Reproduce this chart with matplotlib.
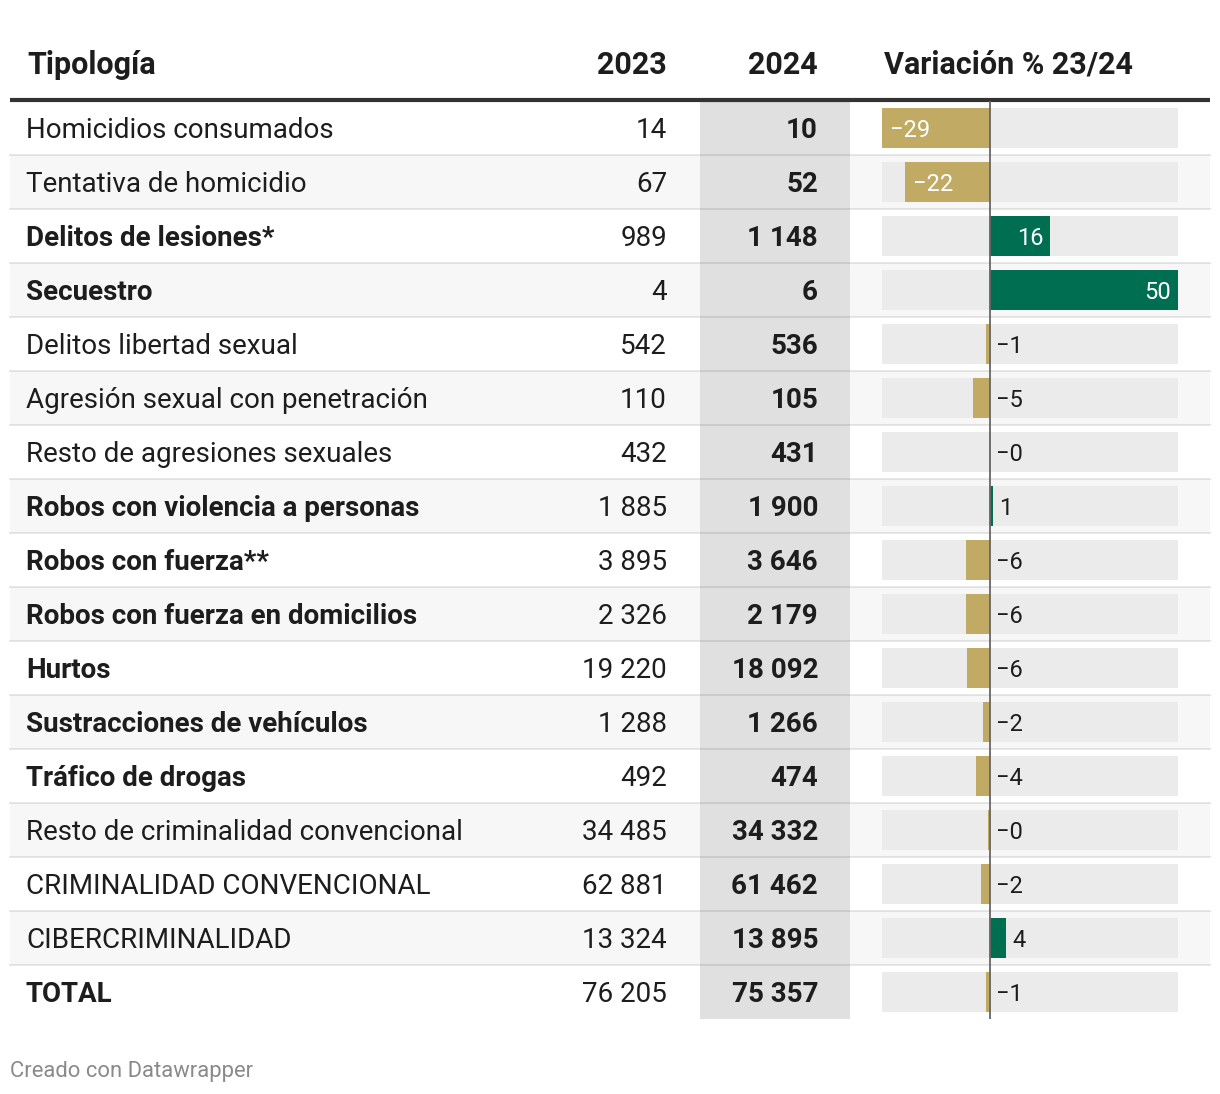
import matplotlib.pyplot as plt
import numpy as np

plt.rcParams['font.family'] = ['Roboto', 'DejaVu Sans']

# datos
tipologia = ['Homicidios consumados', 'Tentativa de homicidio', 'Delitos de lesiones*',
             'Secuestro', 'Delitos libertad sexual', 'Agresión sexual con penetración',
             'Resto de agresiones sexuales', 'Robos con violencia a personas',
             'Robos con fuerza**', 'Robos con fuerza en domicilios', 'Hurtos',
             'Sustracciones de vehículos', 'Tráfico de drogas',
             'Resto de criminalidad convencional', 'CRIMINALIDAD CONVENCIONAL',
             'CIBERCRIMINALIDAD', 'TOTAL']
negrita = [False, False, True, True, False, False, False, True, True, True, True,
           True, True, False, False, False, True]
v2023 = [14, 67, 989, 4, 542, 110, 432, 1885, 3895, 2326, 19220, 1288, 492,
         34485, 62881, 13324, 76205]
v2024 = [10, 52, 1148, 6, 536, 105, 431, 1900, 3646, 2179, 18092, 1266, 474,
         34332, 61462, 13895, 75357]
variacion = [-28.6, -22.4, 16.1, 50.0, -1.1, -4.55, -0.2, 0.8, -6.4, -6.3, -5.9,
             -1.7, -3.7, -0.4, -2.3, 4.3, -1.1]
cabecera = ['Tipología', '2023', '2024', 'Variación % 23/24']

W, H = 1220, 1094
TXT = '#1d1d1d'
NEG = '#c1aa63'
POS = '#006e51'

def miles(n):
    return f'{n:,}'.replace(',', ' ')

fig = plt.figure(figsize=(W / 100, H / 100), dpi=100)
ax = fig.add_axes([0, 0, 1, 1])
ax.set_xlim(0, W)
ax.set_ylim(H, 0)
ax.axis('off')

n = len(tipologia)
top, rh = 101, 54
bottom = top + n * rh

# filas alternas
for i in range(n):
    if i % 2 == 1:
        ax.add_patch(plt.Rectangle((10, top + i * rh), 1200, rh, color='#f7f7f7', lw=0, zorder=0))
# columna 2024
ax.add_patch(plt.Rectangle((700, top), 150, bottom - top, color='#e0e0e0', lw=0, zorder=1))
# separadores
for i in range(1, n):
    y = top + i * rh
    ax.plot([10, 1210], [y, y], color='black', alpha=0.09, lw=1.5, zorder=2)
ax.plot([10, 1210], [100, 100], color='#333333', lw=3, zorder=3, solid_capstyle='butt')

# cabecera
hy = 65
ax.text(27, hy, cabecera[0], fontsize=22, fontweight='bold', color=TXT, va='center', ha='left')
ax.text(667, hy, cabecera[1], fontsize=22, fontweight='bold', color=TXT, va='center', ha='right')
ax.text(818, hy, cabecera[2], fontsize=22, fontweight='bold', color=TXT, va='center', ha='right')
ax.text(884, hy, cabecera[3], fontsize=22, fontweight='bold', color=TXT, va='center', ha='left')

for i in range(n):
    yc = top + i * rh + rh / 2 + 2
    ax.text(26, yc, tipologia[i], fontsize=20, color=TXT, va='center', ha='left',
            fontweight='bold' if negrita[i] else 'normal', zorder=4)
    ax.text(667, yc, miles(v2023[i]), fontsize=20, color=TXT, va='center', ha='right', zorder=4)
    ax.text(818, yc, miles(v2024[i]), fontsize=20, color=TXT, va='center', ha='right',
            fontweight='bold', zorder=4)

ax.text(10, 1072, 'Creado con Datawrapper', fontsize=15.8, color='#8a8a8a', va='center', ha='left')

# barras de variación
bax = fig.add_axes([882 / W, 1 - bottom / H, 296 / W, (bottom - top) / H])
bax.patch.set_alpha(0)
bax.set_xlim(min(variacion), max(variacion))
bax.set_ylim(n - 0.5, -0.5)
bax.axis('off')
yy = np.arange(n)
bax.barh(yy, [max(variacion) - min(variacion)] * n, left=min(variacion), height=40 / 54,
         color='#ebebeb', zorder=1)
cols = [NEG if v < 0 else POS for v in variacion]
bax.barh(yy, variacion, height=40 / 54, color=cols, zorder=2)
bax.axvline(0, color='#666666', lw=1.3, zorder=3)

for i, v in enumerate(variacion):
    lab = f'{v:.0f}'.replace('-', '\u2212')
    if abs(v) > 10:
        if v < 0:
            bax.annotate(lab, (v, i), xytext=(5.5, -1.5), textcoords='offset points',
                         ha='left', va='center', fontsize=17, color='white', zorder=4)
        else:
            bax.annotate(lab, (v, i), xytext=(-5, -1.5), textcoords='offset points',
                         ha='right', va='center', fontsize=17, color='white', zorder=4)
    else:
        x0 = max(v, 0)
        bax.annotate(lab, (x0, i), xytext=(4.5, -1.5), textcoords='offset points',
                     ha='left', va='center', fontsize=17, color=TXT, zorder=4)

fig.savefig('out.png', dpi=100)
